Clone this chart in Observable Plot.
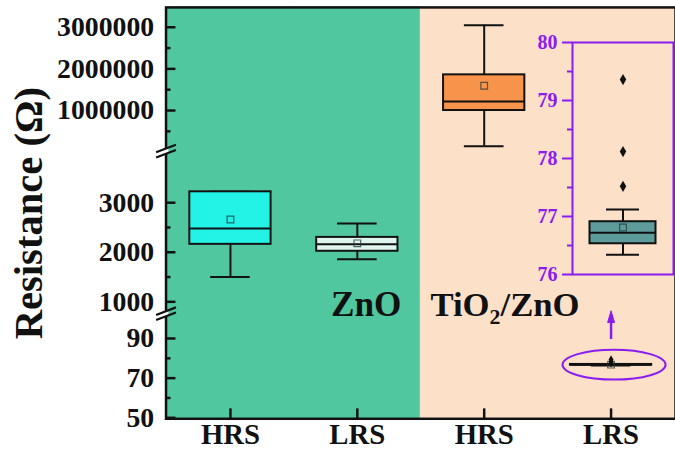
<!DOCTYPE html>
<html>
<head>
<meta charset="utf-8">
<script src="https://cdn.jsdelivr.net/npm/d3@7"></script>
<script src="https://cdn.jsdelivr.net/npm/@observablehq/plot@0.6"></script>
<style>
  body { margin: 0; background: #fff; }
  #chart { position: relative; width: 675px; height: 461px; overflow: hidden; }
  #chart svg { position: absolute; left: 0; top: 0; }
</style>
</head>
<body>
<div id="chart"></div>
<script>
// Categories: two films, each measured in its high and low resistance state
const films = ["ZnO", "ZnO", "TiO2/ZnO", "TiO2/ZnO"];
const states = ["HRS", "LRS", "HRS", "LRS"];

// Box statistics per category (Ω)
const whiskerLow  = [1500, 1860, 143000, 76.34];
const quartile1   = [2160, 2020, 1000000, 76.53];
const medians     = [2480, 2160, 1214000, 76.72];
const quartile3   = [3220, 2300, 1857000, 76.91];
const whiskerHigh = [3220, 2580, 3050000, 77.12];
const means       = [2660, 2180, 1595000, 76.81];

// Outliers of the TiO2/ZnO low resistance state (Ω)
const outliers = [77.52, 78.12, 79.36];

// Axis ticks of the broken resistance axis
const majorTicks = [50, 70, 90, 1000, 2000, 3000, 1000000, 2000000, 3000000];
const minorTicks = [60, 80, 1500, 2500, 500000, 1500000, 2500000];

// Axis ticks of the zoomed panel
const insetMajor = [76, 77, 78, 79, 80];
const insetMinor = [76.5, 77.5, 78.5, 79.5];

// ---- styling ----
const FONT = "'Liberation Serif', 'Times New Roman', serif";
const GREEN = "#50c79f", PEACH = "#fde0c8", PURPLE = "#8a1cf0";
const BOX_FILL = {"ZnO HRS": "#22f3e6", "ZnO LRS": "#dff4ee", "TiO2/ZnO HRS": "#f8934b", "TiO2/ZnO LRS": "#5e9b9b"};

const keys = films.map((f, i) => f + " " + states[i]);
const rows = keys.map((key, i) => ({
  key, lo: whiskerLow[i], q1: quartile1[i], med: medians[i],
  q3: quartile3[i], hi: whiskerHigh[i], mean: means[i], fill: BOX_FILL[key]
}));

// Broken axis: three linear pieces stacked along one continuous scale
const SPAN = 415;
const pieces = [
  {lo: 49.5,  hi: 102.5,   u0: 0,   u1: 106},
  {lo: 760,   hi: 4040,    u0: 106, u1: 270},
  {lo: 23810, hi: 3476190, u0: 270, u1: SPAN}
];
function piece(v) { return v < 500 ? pieces[0] : v < 100000 ? pieces[1] : pieces[2]; }
function u(v) { const p = piece(v); return p.u0 + (v - p.lo) / (p.hi - p.lo) * (p.u1 - p.u0); }
const breaks = [pieces[0].u1, pieces[1].u1];
const tickLabel = new Map(majorTicks.map(t => [u(t), String(t)]));

// Custom symbols
const breakSlash = {draw(ctx, size) {
  const r = Math.sqrt(size / Math.PI), s = r * 0.38;
  for (const o of [-2.6, 2.6]) { ctx.moveTo(-r, o + s); ctx.lineTo(r, o - s); }
}};
const breakGap = {draw(ctx, size) {
  const r = Math.sqrt(size / Math.PI), s = r * 0.38 * 0.25;
  ctx.moveTo(-2.5, -2.6 + s); ctx.lineTo(2.5, -2.6 - s); ctx.lineTo(2.5, 2.6 - s); ctx.lineTo(-2.5, 2.6 + s); ctx.closePath();
}};
const ellipse = {draw(ctx, size) {
  const rx = Math.sqrt(size / Math.PI), ry = rx * 0.29, k = 0.5523;
  ctx.moveTo(rx, 0);
  ctx.bezierCurveTo(rx, ry * k, rx * k, ry, 0, ry);
  ctx.bezierCurveTo(-rx * k, ry, -rx, ry * k, -rx, 0);
  ctx.bezierCurveTo(-rx, -ry * k, -rx * k, -ry, 0, -ry);
  ctx.bezierCurveTo(rx * k, -ry, rx, -ry * k, rx, 0);
  ctx.closePath();
}};
const arrowHead = {draw(ctx, size) {
  const r = Math.sqrt(size / Math.PI);
  ctx.moveTo(0, -r); ctx.lineTo(r * 0.5, r * 0.7); ctx.lineTo(-r * 0.5, r * 0.7); ctx.closePath();
}};

function boxMarks(data, y, {boxInset, capInset}) {
  return [
    Plot.ruleX(data, {x: "key", y1: d => y(d.q3), y2: d => y(d.hi), stroke: "#111", strokeWidth: 2}),
    Plot.ruleX(data, {x: "key", y1: d => y(d.lo), y2: d => y(d.q1), stroke: "#111", strokeWidth: 2}),
    Plot.tickY(data, {x: "key", y: d => y(d.hi), insetLeft: capInset, insetRight: capInset, stroke: "#111", strokeWidth: 2}),
    Plot.tickY(data, {x: "key", y: d => y(d.lo), insetLeft: capInset, insetRight: capInset, stroke: "#111", strokeWidth: 2}),
    Plot.rect(data, {x: "key", y1: d => y(d.q1), y2: d => y(d.q3), insetLeft: boxInset, insetRight: boxInset, fill: "fill", stroke: "#111", strokeWidth: 2}),
    Plot.tickY(data, {x: "key", y: d => y(d.med), insetLeft: boxInset, insetRight: boxInset, stroke: "#111", strokeWidth: 2}),
    Plot.dot(data, {x: "key", y: d => y(d.mean), symbol: "square", r: 3.8, fill: "none", stroke: "#1f3a3a", strokeOpacity: 0.75, strokeWidth: 1.2})
  ];
}

const lrsTiO2 = keys[3];

const main = Plot.plot({
  width: 681, height: 461,
  marginLeft: 167, marginRight: 0, marginTop: 7, marginBottom: 39,
  style: {fontFamily: FONT, fontWeight: "bold", background: "transparent", color: "#111"},
  x: {type: "band", domain: keys, padding: 0, label: null},
  y: {domain: [0, SPAN], label: null},
  color: {type: "identity"},
  marks: [
    Plot.barY(keys.slice(0, 2), {x: d => d, y1: 0, y2: SPAN, fill: GREEN, stroke: GREEN, strokeWidth: 1}),
    Plot.barY(keys.slice(2), {x: d => d, y1: 0, y2: SPAN, fill: PEACH, stroke: PEACH, strokeWidth: 1}),
    ...boxMarks(rows, u, {boxInset: 23, capInset: 44}),
    Plot.dot(outliers, {x: () => lrsTiO2, y: d => u(d), symbol: "diamond", r: 2.6, fill: "#111"}),
    // highlight of the compressed box and pointer to the zoomed panel
    Plot.dot([76.8], {x: () => lrsTiO2, y: d => u(d), dx: 3, symbol: ellipse, r: 52, fill: "none", stroke: PURPLE, strokeWidth: 2}),
    Plot.ruleX([{from: 89.5, to: 100.5}], {x: () => lrsTiO2, y1: d => u(d.from), y2: d => u(d.to), stroke: PURPLE, strokeWidth: 2.5}),
    Plot.dot([100.5], {x: () => lrsTiO2, y: d => u(d), symbol: arrowHead, r: 7, fill: PURPLE, stroke: PURPLE, strokeWidth: 1}),
    // film labels
    Plot.text(["ZnO"], {x: () => keys[1], frameAnchor: "bottom", dy: -104, dx: 9, fontSize: 35.5, fill: "#111"}),
    Plot.text(["TiO2/ZnO"], {
      x: () => keys[2], frameAnchor: "bottom", dy: -104, dx: 21, fontSize: 35, fill: "#111",
      render(index, scales, values, dimensions, context, next) {
        const g = next(index, scales, values, dimensions, context);
        d3.select(g).selectAll("text").each(function () {
          const t = d3.select(this);
          t.text(null);
          t.append("tspan").text("TiO");
          t.append("tspan").attr("dy", 8).attr("font-size", 22).text("2");
          t.append("tspan").attr("dy", -8).text("/ZnO");
        });
        return g;
      }
    }),
    Plot.text(["Resistance (Ω)"], {frameAnchor: "left", textAnchor: "middle", dx: -138, rotate: -90, fontSize: 41, fill: "#111"}),
    // axes
    Plot.frame({stroke: "#111", strokeWidth: 2.5}),
    Plot.axisY({ticks: majorTicks.map(u), tickFormat: t => tickLabel.get(t), tickSize: -10, tickPadding: 22, strokeWidth: 2.5, fontSize: 28}),
    Plot.axisY({ticks: minorTicks.map(u), tickFormat: () => "", tickSize: -5, strokeWidth: 2.5}),
    Plot.axisX({tickFormat: k => k.split(" ")[1], tickSize: -10, tickPadding: 15, strokeWidth: 2.5, fontSize: 29}),
    Plot.dot(breaks, {frameAnchor: "left", y: d => d, symbol: breakGap, r: 10, fill: "#fff"}),
    Plot.dot(breaks, {frameAnchor: "left", y: d => d, symbol: breakSlash, r: 10, fill: "none", stroke: "#111", strokeWidth: 2.2})
  ]
});

// Zoomed view of the TiO2/ZnO low resistance state
const insetRows = rows.slice(3);
const inset = Plot.plot({
  width: 675, height: 461,
  marginLeft: 572, marginRight: 2, marginTop: 42, marginBottom: 187,
  style: {fontFamily: FONT, fontWeight: "bold", background: "transparent"},
  x: {type: "band", domain: [lrsTiO2], padding: 0, axis: null},
  y: {domain: [76, 80], label: null},
  color: {type: "identity"},
  marks: [
    Plot.frame({fill: PEACH}),
    ...boxMarks(insetRows, d => d, {boxInset: 17.5, capInset: 34}),
    Plot.dot(outliers, {x: () => lrsTiO2, y: d => d, symbol: "diamond", r: 3.4, fill: "#111"}),
    Plot.frame({stroke: PURPLE, strokeWidth: 2}),
    Plot.axisY({ticks: insetMajor, tickFormat: d => String(d), tickSize: 10, tickPadding: 5, color: PURPLE, strokeWidth: 2, fontSize: 20}),
    Plot.axisY({ticks: insetMinor, tickFormat: () => "", tickSize: 5, color: PURPLE, strokeWidth: 2})
  ]
});

const chart = document.getElementById("chart");
chart.append(main, inset);
</script>
</body>
</html>
